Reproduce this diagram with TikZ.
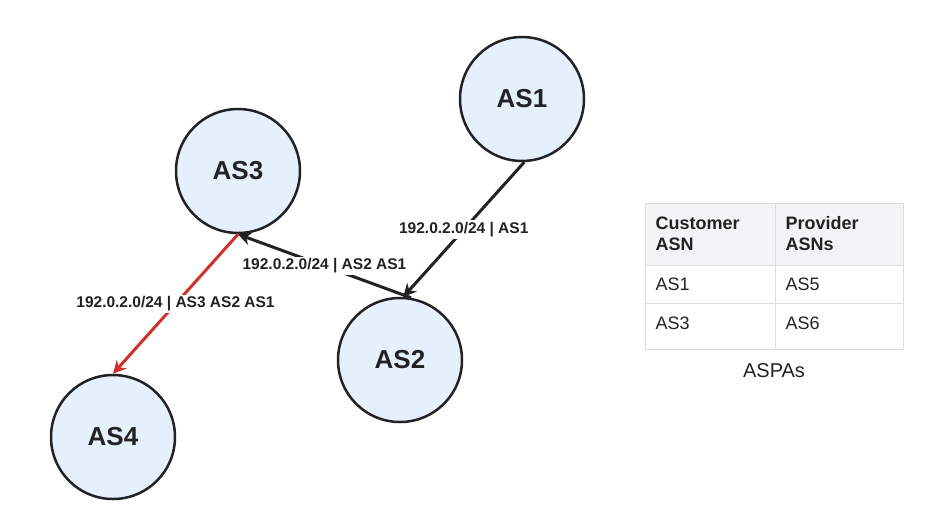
\documentclass[tikz,border=0pt]{standalone}
\usepackage{fontspec}
\setmainfont{Liberation Sans}
\usetikzlibrary{arrows.meta}
\definecolor{nodefill}{HTML}{E6F0FD}
\definecolor{ink}{HTML}{222222}
\definecolor{alert}{HTML}{D0312D}
\definecolor{headfill}{HTML}{F3F4F6}
\definecolor{gridline}{HTML}{DDDDDD}
\begin{document}
\begin{tikzpicture}[x=1pt,y=-1pt,
  asnode/.style={circle, draw=ink, line width=2.5pt, fill=nodefill,
    minimum size=124pt, inner sep=0pt, font=\fontsize{26}{28}\selectfont\bfseries, text=ink},
  route/.style={line width=3pt, draw=ink, -{Stealth[length=13pt,width=13pt]}},
  badroute/.style={route, draw=alert},
  routelabel/.style={fill=white, inner sep=2pt, font=\fontsize{15.5}{17}\selectfont\bfseries, text=ink},
  cell/.style={font=\fontsize{18}{21}\selectfont, text=ink, anchor=west, align=left}
]
\useasboundingbox (0,0) rectangle (949,520);

% autonomous systems
\node[asnode] (as1) at (522,99) {AS1};
\node[asnode] (as3) at (238,171) {AS3};
\node[asnode] (as2) at (400,360) {AS2};
\node[asnode] (as4) at (113,437) {AS4};

% route announcements
\draw[route] (as1.272) -- node[routelabel, pos=0.5] {192.0.2.0/24 | AS1} (as2.87);
\draw[route] (as2.80) -- node[routelabel, pos=0.5] {192.0.2.0/24 | AS2 AS1} (as3.270);
\draw[badroute] (as3.270) -- node[routelabel, pos=0.5] {192.0.2.0/24 | AS3 AS2 AS1} (as4.90);

% ASPA table
\fill[headfill] (645,203) rectangle (903,265);
\draw[gridline, line width=1pt] (645,203) rectangle (903,349);
\draw[gridline, line width=1pt] (775,203) -- (775,349);
\draw[gridline, line width=1pt] (645,265) -- (903,265);
\draw[gridline, line width=1pt] (645,303) -- (903,303);
\node[cell, font=\fontsize{18}{21}\selectfont\bfseries] (h1) at (652,234) {Customer\\ASN};
\node[cell, font=\fontsize{18}{21}\selectfont\bfseries] (h2) at (782,234) {Provider\\ASNs};
\node[cell] (c11) at (652,284) {AS1};
\node[cell] (c12) at (782,284) {AS5};
\node[cell] (c21) at (652,323) {AS3};
\node[cell] (c22) at (782,323) {AS6};
\node[font=\fontsize{20}{22}\selectfont, text=ink] (cap) at (774,371) {ASPAs};
\end{tikzpicture}
\end{document}
